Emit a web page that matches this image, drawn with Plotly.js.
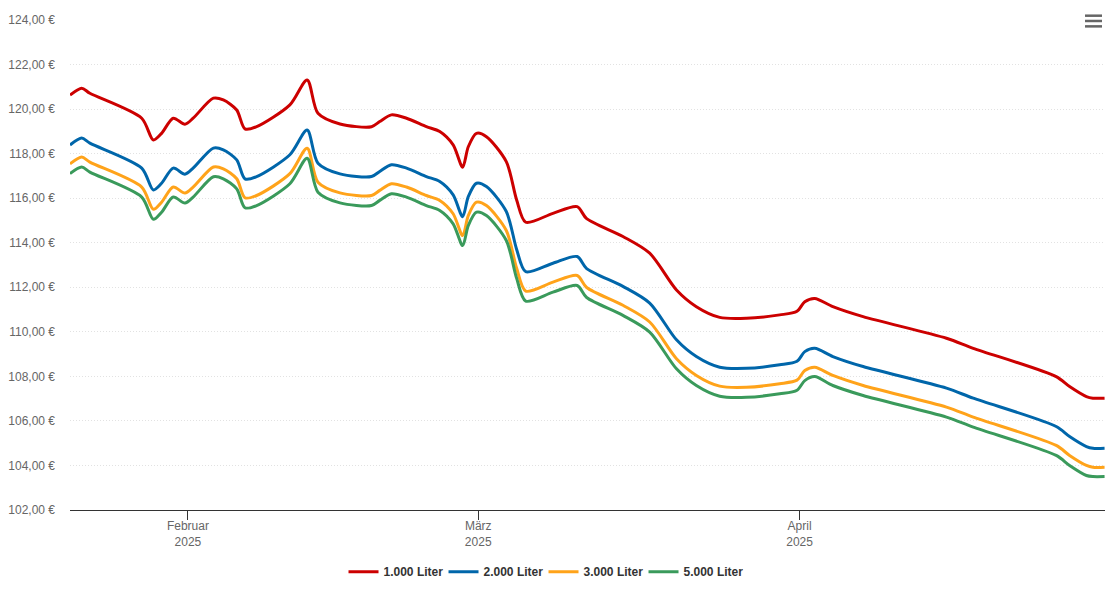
<!DOCTYPE html>
<html>
<head>
<meta charset="utf-8">
<script src="https://cdn.plot.ly/plotly-3.0.1.min.js"></script>
<style>html,body{margin:0;padding:0;background:#fff;}#chart{width:1115px;height:608px;}</style>
</head>
<body>
<div id="chart"></div>
<script>
const dates = ['2025-01-20 15:00','2025-01-21 18:00','2025-01-22 13:00','2025-01-27 13:00','2025-01-28 16:00','2025-01-29 11:00','2025-01-30 14:00','2025-01-31 17:00','2025-02-01 12:00','2025-02-03 11:00','2025-02-04 10:00','2025-02-05 17:00','2025-02-06 12:00','2025-02-07 15:00','2025-02-10 20:00','2025-02-12 12:00','2025-02-13 13:00','2025-02-15 16:00','2025-02-18 17:00','2025-02-19 12:00','2025-02-20 15:00','2025-02-22 02:00','2025-02-24 00:00','2025-02-25 07:00','2025-02-26 14:00','2025-02-27 12:00','2025-02-28 01:00','2025-02-28 20:00','2025-03-01 19:00','2025-03-03 17:00','2025-03-04 17:00','2025-03-05 14:00','2025-03-08 05:00','2025-03-10 13:00','2025-03-11 11:00','2025-03-14 23:00','2025-03-17 13:00','2025-03-20 03:00','2025-03-22 01:00','2025-03-24 07:00','2025-03-26 21:00','2025-03-30 02:00','2025-03-31 18:00','2025-04-01 12:00','2025-04-02 11:00','2025-04-04 05:00','2025-04-07 03:00','2025-04-15 04:00','2025-04-17 18:00','2025-04-25 18:00','2025-04-27 01:00','2025-04-28 16:00','2025-04-29 07:00','2025-04-30 10:00'];

const liter1000 = [120.63,120.94,120.71,119.59,118.61,118.91,119.59,119.32,119.59,120.49,120.41,119.96,119.11,119.21,120.19,121.31,119.81,119.33,119.21,119.44,119.74,119.59,119.21,118.99,118.39,117.39,118.31,118.91,118.76,117.64,115.92,114.92,115.32,115.62,115.08,114.28,113.53,111.88,111.13,110.65,110.61,110.76,110.92,111.35,111.50,111.13,110.68,109.71,109.26,107.99,107.54,107.09,107.02,107.02];
const liter2000 = [118.39,118.70,118.47,117.35,116.37,116.67,117.35,117.08,117.35,118.25,118.17,117.72,116.87,116.97,117.95,119.06,117.57,117.09,116.97,117.20,117.50,117.35,116.97,116.75,116.15,115.17,116.07,116.67,116.52,115.40,113.70,112.70,113.08,113.38,112.84,112.04,111.29,109.64,108.89,108.41,108.36,108.52,108.68,109.11,109.26,108.89,108.44,107.47,107.02,105.75,105.30,104.85,104.77,104.77];
const liter3000 = [117.54,117.85,117.62,116.50,115.50,115.82,116.50,116.23,116.50,117.40,117.32,116.87,116.02,116.12,117.10,118.24,116.72,116.24,116.12,116.35,116.65,116.50,116.12,115.90,115.30,114.32,115.22,115.82,115.67,114.55,112.85,111.83,112.23,112.53,111.99,111.19,110.44,108.79,108.04,107.56,107.51,107.67,107.83,108.26,108.41,108.04,107.59,106.62,106.17,104.90,104.45,104.00,103.92,103.92];
const liter5000 = [117.10,117.40,117.17,116.05,115.05,115.37,116.05,115.78,116.05,116.96,116.87,116.42,115.57,115.67,116.65,117.79,116.27,115.79,115.67,115.90,116.20,116.05,115.67,115.45,114.85,113.87,114.77,115.37,115.22,114.10,112.40,111.38,111.78,112.08,111.54,110.74,109.99,108.34,107.59,107.11,107.06,107.22,107.38,107.81,107.99,107.59,107.14,106.17,105.72,104.45,104.00,103.55,103.50,103.50];

const seriesNames = ['1.000 Liter','2.000 Liter','3.000 Liter','5.000 Liter'];
const seriesValues = [liter1000, liter2000, liter3000, liter5000];
const seriesColors = ['#cc0000','#0066aa','#ffa31a','#3a9a5b'];

const xTickVals = ['2025-02-01','2025-03-01','2025-04-01'];
const xTickText = ['Februar<br>2025','März<br>2025','April<br>2025'];
const yTickVals = [102,104,106,108,110,112,114,116,118,120,122,124];
const yTickText = ['102,00 €','104,00 €','106,00 €','108,00 €','110,00 €','112,00 €','114,00 €','116,00 €','118,00 €','120,00 €','122,00 €','124,00 €'];

const FONT = '"Liberation Sans", Arial, Helvetica, sans-serif';

const traces = seriesNames.map((n, i) => ({
  type: 'scatter', mode: 'lines', name: n,
  x: dates, y: seriesValues[i],
  line: {color: seriesColors[i], width: 3, shape: 'spline', smoothing: 0.8},
  hoverinfo: 'skip'
}));

const layout = {
  width: 1115, height: 608,
  margin: {l: 70, r: 10, t: 20, b: 98, autoexpand: false},
  paper_bgcolor: '#ffffff', plot_bgcolor: '#ffffff',
  font: {family: FONT, size: 12, color: '#666666'},
  showlegend: true,
  legend: {
    orientation: 'h', x: 0.4575, xanchor: 'center', y: -0.126, yanchor: 'middle',
    font: {family: FONT, size: 12, color: '#333333', weight: 'bold'},
    itemwidth: 30, tracegroupgap: 0,
    entrywidth: 55, entrywidthmode: 'pixels'
  },
  xaxis: {
    type: 'date',
    range: ['2025-01-20 15:00', '2025-04-30 11:00'],
    tickvals: xTickVals, ticktext: xTickText,
    ticks: 'outside', ticklen: 9, tickcolor: '#333333', tickwidth: 1,
    ticklabelstandoff: -4,
    showline: true, linecolor: '#333333', linewidth: 1,
    showgrid: false, zeroline: false,
    tickfont: {family: FONT, size: 12, color: '#666666'}
  },
  yaxis: {
    range: [102, 124],
    tickvals: yTickVals, ticktext: yTickText,
    ticks: '', ticklabelstandoff: 14,
    showline: false, zeroline: false,
    showgrid: true, gridcolor: '#e2e2e2', gridwidth: 1, griddash: '1px,2px',
    tickfont: {family: FONT, size: 12, color: '#666666'}
  },
  shapes: [
    {type: 'line', xref: 'paper', yref: 'paper', x0: 0.9807, x1: 0.9971, y0: 1.0088, y1: 1.0088, line: {color: '#666666', width: 2.5}},
    {type: 'line', xref: 'paper', yref: 'paper', x0: 0.9807, x1: 0.9971, y0: 0.998, y1: 0.998, line: {color: '#666666', width: 2.5}},
    {type: 'line', xref: 'paper', yref: 'paper', x0: 0.9807, x1: 0.9971, y0: 0.987, y1: 0.987, line: {color: '#666666', width: 2.5}}
  ]
};

Plotly.newPlot('chart', traces, layout, {displayModeBar: false, staticPlot: true});
</script>
</body>
</html>
